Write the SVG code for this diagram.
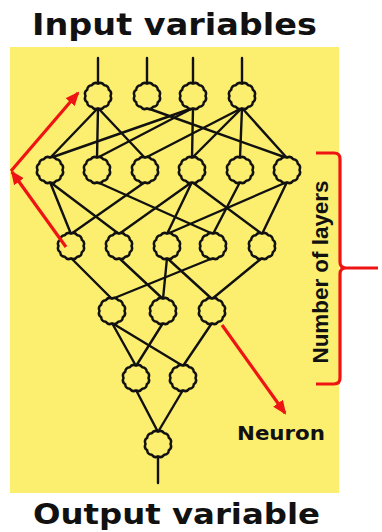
<svg xmlns="http://www.w3.org/2000/svg" xmlns:xlink="http://www.w3.org/1999/xlink" width="382" height="532" viewBox="0 0 382 532">
  <style>
    .title { font-family: "DejaVu Sans", Verdana, sans-serif; font-weight: bold; fill: #111; }
    .label { font-family: "DejaVu Sans", Verdana, sans-serif; font-weight: bold; fill: #111; }
    .side { font-family: "Liberation Sans", Arial, sans-serif; font-weight: bold; fill: #111; }
    .edge { stroke: #111; stroke-width: 2.4; fill: none; stroke-linecap: round; }
    .neuron { fill: #FCEE6F; stroke: #111; stroke-width: 2.5; }
    .red { stroke: #EE1414; stroke-width: 3.2; fill: none; }
  </style>
  <defs>
    <!-- scalloped neuron outline, radius 12.5 with 12 shallow bumps -->
    <path id="cell" d="M12.5,0 A5,5 0 0 1 10.825,6.25 A5,5 0 0 1 6.25,10.825 A5,5 0 0 1 0,12.5 A5,5 0 0 1 -6.25,10.825 A5,5 0 0 1 -10.825,6.25 A5,5 0 0 1 -12.5,0 A5,5 0 0 1 -10.825,-6.25 A5,5 0 0 1 -6.25,-10.825 A5,5 0 0 1 0,-12.5 A5,5 0 0 1 6.25,-10.825 A5,5 0 0 1 10.825,-6.25 A5,5 0 0 1 12.5,0 Z"/>
    <marker id="redhead" markerUnits="userSpaceOnUse" markerWidth="14" markerHeight="12" refX="12" refY="6" orient="auto">
      <path d="M0,0 L14,6 L0,12 Z" fill="#EE1414"/>
    </marker>
  </defs>

  <!-- background panel -->
  <rect x="10" y="47" width="329" height="446" fill="#FCEE6F"/>

  <text class="title" x="32" y="35" font-size="30" textLength="285" lengthAdjust="spacingAndGlyphs">Input variables</text>
  <text class="title" x="33" y="524" font-size="28" textLength="287" lengthAdjust="spacingAndGlyphs">Output variable</text>

  <g id="connectors">
    <!-- inputs -->
    <line class="edge" x1="98" y1="58" x2="98" y2="84"/>
    <line class="edge" x1="147" y1="58" x2="147" y2="84"/>
    <line class="edge" x1="193" y1="58" x2="193" y2="84"/>
    <line class="edge" x1="242" y1="58" x2="242" y2="84"/>
    <!-- layer 1 to layer 2 -->
    <line class="edge" x1="98" y1="108" x2="50" y2="158"/>
    <line class="edge" x1="98" y1="108" x2="97" y2="158"/>
    <line class="edge" x1="98" y1="108" x2="145" y2="158"/>
    <line class="edge" x1="147" y1="108" x2="287" y2="158"/>
    <line class="edge" x1="193" y1="108" x2="50" y2="158"/>
    <line class="edge" x1="193" y1="108" x2="97" y2="158"/>
    <line class="edge" x1="193" y1="108" x2="192" y2="158"/>
    <line class="edge" x1="242" y1="108" x2="145" y2="158"/>
    <line class="edge" x1="242" y1="108" x2="192" y2="158"/>
    <line class="edge" x1="242" y1="108" x2="240" y2="158"/>
    <line class="edge" x1="242" y1="108" x2="287" y2="158"/>
    <!-- layer 2 to layer 3 -->
    <line class="edge" x1="50" y1="182" x2="71" y2="234"/>
    <line class="edge" x1="50" y1="182" x2="119" y2="234"/>
    <line class="edge" x1="97" y1="182" x2="213" y2="234"/>
    <line class="edge" x1="145" y1="182" x2="71" y2="234"/>
    <line class="edge" x1="192" y1="182" x2="119" y2="234"/>
    <line class="edge" x1="192" y1="182" x2="167" y2="234"/>
    <line class="edge" x1="192" y1="182" x2="262" y2="234"/>
    <line class="edge" x1="240" y1="182" x2="213" y2="234"/>
    <line class="edge" x1="287" y1="182" x2="167" y2="234"/>
    <line class="edge" x1="287" y1="182" x2="262" y2="234"/>
    <!-- layer 3 to layer 4 -->
    <line class="edge" x1="71" y1="258" x2="112" y2="299"/>
    <line class="edge" x1="119" y1="258" x2="163" y2="299"/>
    <line class="edge" x1="167" y1="258" x2="163" y2="299"/>
    <line class="edge" x1="167" y1="258" x2="212" y2="299"/>
    <line class="edge" x1="213" y1="258" x2="112" y2="299"/>
    <line class="edge" x1="262" y1="258" x2="212" y2="299"/>
    <!-- layer 4 to layer 5 -->
    <line class="edge" x1="112" y1="323" x2="136" y2="366"/>
    <line class="edge" x1="112" y1="323" x2="183" y2="366"/>
    <line class="edge" x1="163" y1="323" x2="136" y2="366"/>
    <line class="edge" x1="212" y1="323" x2="183" y2="366"/>
    <!-- layer 5 to output neuron -->
    <line class="edge" x1="136" y1="390" x2="158" y2="432"/>
    <line class="edge" x1="183" y1="390" x2="158" y2="432"/>
    <!-- output -->
    <line class="edge" x1="158" y1="456" x2="158" y2="483"/>
  </g>

  <g id="layer1">
    <g id="n1a"><use xlink:href="#cell" class="neuron" x="98" y="96"/></g>
    <g id="n1b"><use xlink:href="#cell" class="neuron" x="147" y="96"/></g>
    <g id="n1c"><use xlink:href="#cell" class="neuron" x="193" y="96"/></g>
    <g id="n1d"><use xlink:href="#cell" class="neuron" x="242" y="96"/></g>
  </g>
  <g id="layer2">
    <g id="n2a"><use xlink:href="#cell" class="neuron" x="50" y="170"/></g>
    <g id="n2b"><use xlink:href="#cell" class="neuron" x="97" y="170"/></g>
    <g id="n2c"><use xlink:href="#cell" class="neuron" x="145" y="170"/></g>
    <g id="n2d"><use xlink:href="#cell" class="neuron" x="192" y="170"/></g>
    <g id="n2e"><use xlink:href="#cell" class="neuron" x="240" y="170"/></g>
    <g id="n2f"><use xlink:href="#cell" class="neuron" x="287" y="170"/></g>
  </g>
  <g id="layer3">
    <g id="n3a"><use xlink:href="#cell" class="neuron" x="71" y="246"/></g>
    <g id="n3b"><use xlink:href="#cell" class="neuron" x="119" y="246"/></g>
    <g id="n3c"><use xlink:href="#cell" class="neuron" x="167" y="246"/></g>
    <g id="n3d"><use xlink:href="#cell" class="neuron" x="213" y="246"/></g>
    <g id="n3e"><use xlink:href="#cell" class="neuron" x="262" y="246"/></g>
  </g>
  <g id="layer4">
    <g id="n4a"><use xlink:href="#cell" class="neuron" x="112" y="311"/></g>
    <g id="n4b"><use xlink:href="#cell" class="neuron" x="163" y="311"/></g>
    <g id="n4c"><use xlink:href="#cell" class="neuron" x="212" y="311"/></g>
  </g>
  <g id="layer5">
    <g id="n5a"><use xlink:href="#cell" class="neuron" x="136" y="378"/></g>
    <g id="n5b"><use xlink:href="#cell" class="neuron" x="183" y="378"/></g>
  </g>
  <g id="layer6">
    <g id="n6a"><use xlink:href="#cell" class="neuron" x="158" y="444"/></g>
  </g>

  <!-- annotations -->
  <g id="annotations">
    <line class="red" x1="11" y1="171" x2="78" y2="93" marker-end="url(#redhead)"/>
    <line class="red" x1="66" y1="247" x2="12" y2="172" marker-end="url(#redhead)"/>
    <line class="red" x1="222" y1="325" x2="285" y2="413" marker-end="url(#redhead)"/>
    <path class="red" d="M316,153 L334,153 Q340,153 340,159 L340,262 Q340,268 346,268 L378,268 M346,268 Q340,268 340,274 L340,378 Q340,384 334,384 L316,384"/>
    <text class="label" x="237" y="440" font-size="19" textLength="88" lengthAdjust="spacingAndGlyphs">Neuron</text>
    <text class="side" transform="translate(328,272) rotate(-90)" text-anchor="middle" font-size="22" textLength="183" lengthAdjust="spacingAndGlyphs">Number of layers</text>
  </g>
</svg>
